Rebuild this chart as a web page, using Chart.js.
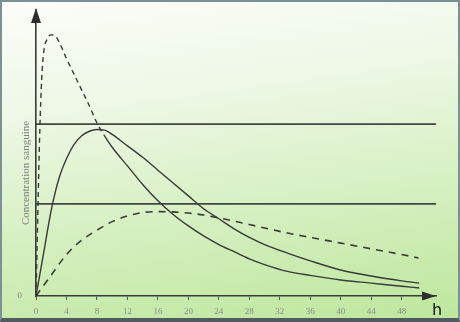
<!DOCTYPE html>
<html>
<head>
<meta charset="utf-8">
<script src="https://cdn.jsdelivr.net/npm/chart.js@4"></script>
<style>
  body { margin: 0; }
  #wrap {
    position: relative; width: 460px; height: 322px; overflow: hidden;
    background: linear-gradient(172deg, #fbfdf9 0%, #eef8e6 30%, #d6f0c2 62%, #bde79c 100%);
  }
  #frame {
    position: absolute; left: 0; top: 0; width: 460px; height: 322px; box-sizing: border-box;
    border: 2px solid #7d9096; border-bottom: 4px solid #4f5b5e; pointer-events: none;
  }
  canvas { position: absolute; left: 0; top: 0; }
</style>
</head>
<body>
<div id="wrap">
  <canvas id="myChart" width="460" height="322"></canvas>
  <div id="frame"></div>
</div>
<script>
// hours after the dose
const hoursA = [0, 0.25, 0.5, 0.75, 1, 1.5, 2, 2.5, 3, 4, 5, 6, 7, 8, 9, 10, 12, 14, 16, 18, 20, 22, 24, 26, 28, 30, 33, 36, 40, 44, 48, 50.3];
const concA  = [0, 30, 58, 76, 85, 90, 91.3, 91, 89, 83, 77.5, 72, 66.5, 60.5, 56, 52, 45.5, 39, 33.3, 28.5, 24.5, 21, 18, 15.5, 13, 11, 8.6, 7.2, 5.6, 4.5, 3.4, 2.8];

const hoursB = [0, 1, 2, 3, 4, 5, 6, 7, 8, 9, 10, 12, 14, 16, 18, 20, 22, 24, 26, 28, 30, 33, 36, 40, 44, 48, 50.3];
const concB  = [0, 15, 30, 41, 48, 53, 56, 57.6, 58.2, 58, 56.5, 52.5, 48.5, 44, 39.5, 35, 30.5, 27, 23.5, 20.5, 18, 15, 12.3, 9.1, 7, 5.3, 4.5];

const hoursC = [0, 2, 4, 6, 8, 10, 12, 14, 16, 18, 20, 22, 24, 26, 28, 30, 33, 36, 40, 44, 48, 50.2];
const concC  = [0, 7.3, 14.5, 19.5, 23, 26, 28, 29.2, 29.5, 29.4, 29, 28.3, 27.3, 26.2, 25, 23.8, 22, 20.5, 18.5, 16.5, 14.5, 13.3];

const levels = [60.1, 32.2];
const xMax = 52.5;
const xTicks = [0, 4, 8, 12, 16, 20, 24, 28, 32, 36, 40, 44, 48];
const yTitle = 'Concentration sanguine';
const xUnit = 'h';

const pts = (xs, ys) => xs.map((x, i) => ({x: x, y: ys[i]}));

const curveStyle = {
  borderColor: '#3a3a3a',
  borderWidth: 1.4,
  pointRadius: 0,
  fill: false,
  cubicInterpolationMode: 'monotone',
};

const datasets = [
  Object.assign({}, curveStyle, {
    label: 'A',
    data: pts(hoursA, concA),
    segment: {
      borderDash: c => c.p0.parsed.x < 9 ? [5, 4] : [],
    },
  }),
  Object.assign({}, curveStyle, {
    label: 'B',
    data: pts(hoursB, concB),
  }),
  Object.assign({}, curveStyle, {
    label: 'C',
    data: pts(hoursC, concC),
    borderDash: [7, 6],
    borderWidth: 1.6,
  }),
];

levels.forEach(function(lv) {
  datasets.push({
    label: 'level',
    data: [{x: 0, y: lv}, {x: xMax, y: lv}],
    borderColor: '#454545',
    borderWidth: 1.6,
    pointRadius: 0,
    fill: false,
  });
});

const arrows = {
  id: 'arrows',
  afterDraw(chart) {
    const c = chart.ctx;
    const a = chart.chartArea;
    const y = chart.scales.y;
    c.save();
    c.fillStyle = '#2e2e2e';
    // y axis arrow
    c.beginPath();
    c.moveTo(a.left, a.top - 2);
    c.lineTo(a.left - 5, a.top + 13);
    c.lineTo(a.left + 5, a.top + 13);
    c.closePath();
    c.fill();
    // x axis arrow
    c.beginPath();
    c.moveTo(a.right, a.bottom);
    c.lineTo(a.right - 14, a.bottom - 4.5);
    c.lineTo(a.right - 14, a.bottom + 4.5);
    c.closePath();
    c.fill();
    // unit
    c.fillStyle = '#111';
    c.font = '16px "DejaVu Sans"';
    c.textAlign = 'center';
    c.textBaseline = 'alphabetic';
    c.fillText(xUnit, a.right + 1, a.bottom + 19);
    // y title, a bit below the middle like the scan
    c.translate(26, y.getPixelForValue(43));
    c.rotate(-Math.PI / 2);
    c.fillStyle = '#808080';
    c.font = '11px "Liberation Serif"';
    c.textBaseline = 'middle';
    c.fillText(yTitle, 0, 0);
    c.restore();
  }
};

const ctx = document.getElementById('myChart').getContext('2d');

const myChart = new Chart(ctx, {
  type: 'line',
  data: { datasets: datasets },
  options: {
    responsive: false,
    animation: false,
    devicePixelRatio: 1,
    layout: { padding: { left: 0, top: 10, right: 24, bottom: 0 } },
    plugins: {
      legend: { display: false },
      tooltip: { enabled: false },
    },
    scales: {
      x: {
        type: 'linear',
        min: 0,
        max: xMax,
        afterFit: s => { s.height = 26; s.paddingLeft = 0; s.paddingRight = 0; },
        afterBuildTicks: s => { s.ticks = xTicks.map(v => ({value: v})); },
        border: { display: true, color: '#3a3a3a', width: 1.6 },
        grid: { display: true, drawOnChartArea: false, drawTicks: true, tickLength: 4, color: '#555' },
        ticks: {
          color: '#8a8a8a',
          padding: 6,
          maxRotation: 0,
          autoSkip: false,
          font: { family: 'Liberation Serif', size: 9 },
        },
      },
      y: {
        type: 'linear',
        min: 0,
        max: 100,
        afterFit: s => { s.width = 36; s.paddingTop = 0; s.paddingBottom = 0; },
        afterBuildTicks: s => { s.ticks = [{value: 0}]; },
        border: { display: true, color: '#3a3a3a', width: 1.6 },
        grid: { display: false, drawTicks: false },
        ticks: {
          color: '#8a8a8a',
          padding: 14,
          font: { family: 'Liberation Serif', size: 9 },
        },
      },
    },
  },
  plugins: [arrows],
});
</script>
</body>
</html>
